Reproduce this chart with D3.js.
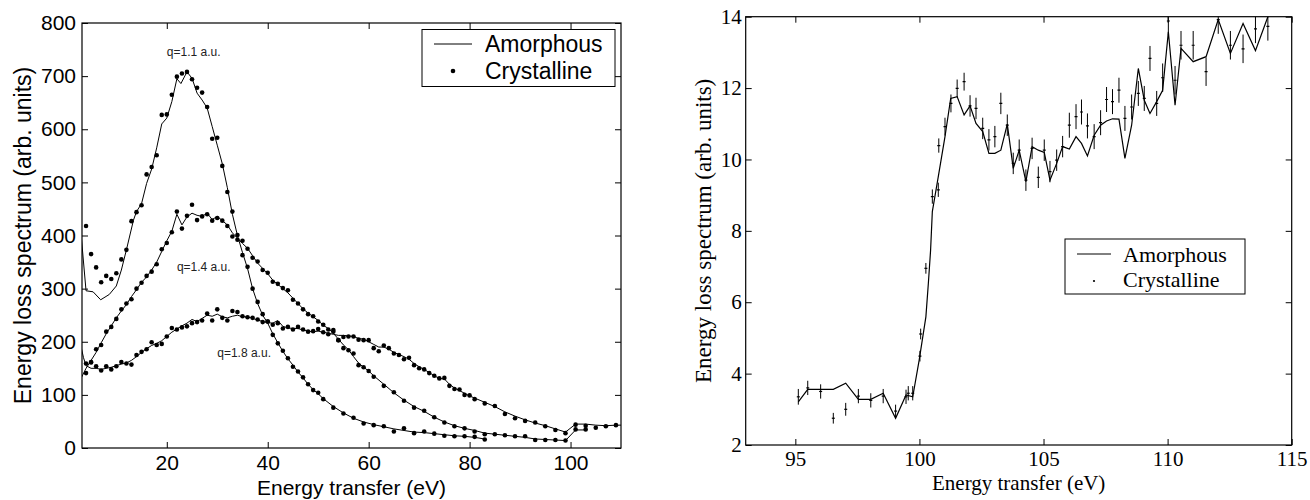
<!DOCTYPE html>
<html>
<head>
<meta charset="utf-8">
<script src="https://cdn.jsdelivr.net/npm/d3@7"></script>
<style>
  body { margin: 0; background: #fff; }
  svg { display: block; }
  .sans text { font-family: "Liberation Sans", Arial, sans-serif; }
  .serif text { font-family: "Liberation Serif", "Times New Roman", serif; }
</style>
</head>
<body>
<svg id="chart" width="1310" height="500"></svg>
<script>
"use strict";

// ---- left panel: energy loss spectra at three momentum transfers ----
// crystalline (dots) [energy, value]
const q11Crystalline = [[4,418],[5,365],[6,340],[7,312],[8,324],[9,318],[10,329],[11,355],[12,373],[13,427],[14,444],[15,457],[16,515],[17,529],[18,551],[19,627],[20,628],[21,665],[22,699],[23,705],[24,708],[25,694],[26,678],[27,669],[28,642],[29,582],[30,584],[31,531],[32,482],[33,445],[34,401],[35,363],[36,341],[37,300],[38,275],[39,252],[40,238],[41,213],[42,197],[43,183],[44,169],[45,153],[46,144],[47,133],[48,120],[49,109],[50,104],[51,92],[53,76],[55,65],[57,57],[59,46],[61,43],[63,41],[65,31],[67,37],[69,28],[71,31],[73,27],[75,23],[77,22],[79,22],[81,21],[83,16]];
const q14Crystalline = [[4,141],[5,162],[6,186],[7,194],[8,219],[9,228],[10,243],[11,261],[12,272],[13,280],[14,300],[15,311],[16,324],[17,332],[18,346],[19,374],[20,386],[21,406],[22,445],[23,413],[24,437],[25,458],[26,429],[27,436],[28,440],[29,428],[30,433],[31,428],[32,418],[33,398],[34,392],[35,390],[36,375],[37,358],[38,351],[39,335],[40,330],[41,313],[42,309],[43,301],[44,297],[45,279],[46,272],[47,261],[48,252],[49,248],[50,238],[51,232],[52,223],[53,219],[54,203],[55,188],[56,184],[57,178],[58,156],[59,152],[60,145],[61,134],[63,117],[65,105],[67,89],[69,76],[71,70],[73,58],[75,48],[77,41],[79,37],[81,31],[83,26],[85,26],[87,24],[89,22],[91,22],[93,15],[95,15],[97,15],[99,14],[101,35],[103,35]];
const q18Crystalline = [[4,159],[5,161],[6,154],[7,146],[8,154],[9,148],[10,154],[11,162],[12,159],[13,157],[14,175],[15,181],[16,186],[17,199],[18,194],[19,196],[20,210],[21,226],[22,223],[23,227],[24,229],[25,235],[26,237],[27,240],[28,253],[29,240],[30,261],[31,245],[32,240],[33,258],[34,256],[35,248],[36,246],[37,245],[38,242],[39,237],[40,238],[41,232],[42,235],[43,225],[44,228],[45,223],[46,228],[47,223],[48,219],[49,220],[50,224],[51,218],[52,214],[53,222],[54,203],[55,209],[56,210],[57,210],[58,204],[59,203],[60,203],[61,188],[62,182],[63,193],[64,188],[65,178],[66,175],[67,167],[68,170],[69,156],[70,150],[71,148],[72,141],[73,136],[74,131],[75,132],[76,117],[77,111],[78,110],[79,100],[80,99],[81,92],[83,84],[85,79],[87,64],[89,56],[91,51],[93,48],[95,41],[97,34],[99,28],[101,44],[103,42],[105,38],[107,41],[109,43]];

// amorphous (lines) [energy, value]
const q11Amorphous = [[3,404],[4,296],[5.4,294],[6.9,279],[8.6,289],[10,305],[11,335],[12,373],[13.4,429],[14,445],[15,460],[16,498],[17,525],[18,565],[19,610],[20,621],[21,652],[22,695],[22.8,686],[24,708],[25,696],[26,668],[27,655],[28,640],[29,605],[30,570],[31,535],[32,490],[33,440],[34,400],[35,368],[36,338],[37,300],[38,272],[39,250],[40,235],[41,215],[42,198],[43,182],[44,168],[45,156],[46,143],[47,132],[48,120],[49,110],[50,102],[51,93],[53,78],[55,66],[57,56],[59,49],[61,44],[63,40],[65,36],[67,33],[69,30],[71,29],[73,27],[75,25],[77,23],[79,22],[81,20],[83,17]];
const q14Amorphous = [[3,131],[4,150],[5,165],[6,180],[7,198],[8,215],[9,230],[10,245],[11,258],[12,270],[13,285],[14,298],[15,312],[16,322],[17,335],[18,350],[19,370],[20,390],[21,408],[22,440],[23,420],[24,435],[25,442],[26,438],[27,436],[28,442],[29,430],[30,436],[31,428],[32,420],[33,405],[34,395],[35,385],[36,376],[37,362],[38,348],[39,338],[40,328],[41,316],[42,308],[43,300],[44,292],[45,282],[46,272],[47,262],[48,254],[49,247],[50,240],[51,231],[52,225],[53,216],[54,205],[55,194],[56,185],[57,172],[58,160],[59,152],[60,145],[61,136],[63,120],[65,104],[67,90],[69,78],[71,69],[73,58],[75,49],[77,42],[79,37],[81,33],[83,28],[85,26],[87,24],[89,22],[91,20],[93,17],[95,16],[97,15],[99,14],[101,34],[103,34]];
const q18Amorphous = [[3,191],[3.5,170],[4,155],[5,150],[6,150],[7,148],[8,150],[9,152],[10,155],[11,158],[12,160],[13,165],[14,172],[15,180],[16,187],[17,193],[18,197],[19,202],[20,210],[21,218],[22,224],[23,230],[24,235],[25,242],[26,238],[27,244],[28,250],[29,248],[30,252],[31,247],[32,245],[33,248],[34,250],[35,247],[36,247],[37,244],[38,241],[39,238],[40,236],[41,235],[42,240],[43,229],[44,226],[45,225],[46,225],[47,222],[48,220],[49,219],[50,220],[51,218],[52,216],[53,214],[54,212],[55,212],[56,211],[57,210],[58,206],[59,205],[60,200],[61,195],[62,190],[63,190],[64,186],[65,180],[66,176],[67,172],[68,167],[69,159],[70,153],[71,148],[72,142],[73,136],[74,131],[75,130],[76,120],[77,113],[78,108],[79,103],[80,98],[81,94],[83,86],[85,78],[87,68],[89,60],[91,53],[93,47],[95,42],[97,36],[99,30],[101,45],[103,45],[105,43],[107,42],[109,43],[110,43]];

const leftXTicks = [20, 40, 60, 80, 100];
const leftYTicks = [0, 100, 200, 300, 400, 500, 600, 700, 800];
const curveLabels = [
  { text: "q=1.1 a.u.", e: 20, v: 738 },
  { text: "q=1.4 a.u.", e: 22, v: 334 },
  { text: "q=1.8 a.u.", e: 30, v: 171 }
];

// ---- right panel: edge region ----
const edgeAmorphous = [[95.12,3.21],[95.5,3.56],[96.02,3.56],[96.53,3.56],[97.03,3.73],[97.54,3.28],[98.04,3.28],[98.54,3.45],[99.04,2.75],[99.46,3.40],[99.73,3.35],[99.99,4.38],[100.26,5.59],[100.36,6.53],[100.45,7.46],[100.52,8.54],[100.76,9.52],[101.03,10.64],[101.26,11.71],[101.52,11.76],[101.8,11.25],[102.04,11.5],[102.28,11.01],[102.55,10.78],[102.8,10.17],[103.04,10.17],[103.28,10.26],[103.54,10.99],[103.78,9.75],[104.02,10.26],[104.29,9.38],[104.54,10.36],[104.79,10.26],[105.03,10.2],[105.26,9.42],[105.53,9.89],[105.77,10.36],[106.04,10.29],[106.31,10.64],[106.53,10.45],[106.77,10.10],[107.04,10.68],[107.3,10.96],[107.54,11.08],[107.78,11.14],[108.04,11.13],[108.28,10.03],[108.55,10.96],[108.82,12.55],[109.06,11.66],[109.29,11.29],[109.56,11.62],[109.8,11.94],[110.03,13.58],[110.3,11.52],[110.54,13.11],[111.03,12.74],[111.55,12.88],[112.04,13.92],[112.53,12.97],[113.04,13.81],[113.54,13.05],[114.04,14.0],[114.3,14.6]];
const edgeEnergy = [95.12,95.5,96.02,96.53,97.03,97.54,98.04,98.54,99.04,99.46,99.55,99.73,100.02,100.05,100.26,100.52,100.76,100.78,101.03,101.27,101.52,101.8,102.04,102.28,102.55,102.8,103.04,103.28,103.54,103.78,104.02,104.29,104.54,104.79,105.03,105.26,105.53,105.77,106.04,106.31,106.53,106.77,107.04,107.3,107.54,107.78,108.04,108.28,108.55,108.82,109.06,109.29,109.56,109.8,110.03,110.3,110.54,111.03,111.55,112.04,112.53,113.04,113.54,114.04];
const edgeCrystalline = [3.35,3.6,3.5,2.75,3.0,3.37,3.25,3.37,2.95,3.35,3.45,3.45,4.49,5.11,6.95,8.96,9.15,10.39,10.92,11.57,11.99,12.18,11.5,11.43,10.87,10.55,10.64,11.57,10.96,9.89,10.26,9.42,10.31,9.5,10.26,9.66,9.98,10.36,10.96,11.2,11.33,10.94,10.64,11.03,11.68,11.62,11.94,11.15,11.47,11.85,11.71,12.83,11.57,12.29,13.88,12.22,13.2,13.2,12.46,13.92,13.2,13.1,13.66,13.73];
const edgeError = [0.22,0.2,0.2,0.15,0.18,0.2,0.2,0.2,0.18,0.2,0.2,0.2,0.15,0.15,0.15,0.2,0.2,0.2,0.25,0.25,0.25,0.25,0.3,0.3,0.3,0.3,0.3,0.3,0.3,0.3,0.3,0.3,0.3,0.3,0.3,0.3,0.3,0.3,0.35,0.35,0.35,0.35,0.35,0.35,0.35,0.35,0.35,0.35,0.35,0.35,0.35,0.35,0.35,0.4,0.4,0.4,0.4,0.4,0.4,0.4,0.4,0.4,0.4,0.4];

const rightXTicks = [95, 100, 105, 110, 115];
const rightYTicks = [2, 4, 6, 8, 10, 12, 14];

const svg = d3.select("#chart");

// axes (ticks inward, full box)
function boxAxes(g, x, y, xt, yt, box, fontSize, xPad, yPad) {
  const tk = 6;
  g.append("g").attr("transform", `translate(0,${box.bottom})`)
    .call(d3.axisBottom(x).tickValues(xt).tickSize(-tk).tickPadding(xPad).tickFormat(d3.format("d")))
    .call(a => a.select(".domain").remove());
  g.append("g").attr("transform", `translate(0,${box.top})`)
    .call(d3.axisTop(x).tickValues(xt).tickSize(-tk).tickFormat(""))
    .call(a => a.select(".domain").remove());
  g.append("g").attr("transform", `translate(${box.left},0)`)
    .call(d3.axisLeft(y).tickValues(yt).tickSize(-tk).tickPadding(yPad).tickFormat(d3.format("d")))
    .call(a => a.select(".domain").remove());
  g.append("g").attr("transform", `translate(${box.right},0)`)
    .call(d3.axisRight(y).tickValues(yt).tickSize(-tk).tickFormat(""))
    .call(a => a.select(".domain").remove());
  g.selectAll(".tick line").attr("stroke", "#000");
  g.selectAll(".tick text").attr("fill", "#000").style("font-size", fontSize + "px");
  g.selectAll("g").attr("font-family", null).attr("font-size", null);
  g.append("rect").attr("x", box.left).attr("y", box.top)
    .attr("width", box.right - box.left).attr("height", box.bottom - box.top)
    .attr("fill", "none").attr("stroke", "#000").attr("stroke-width", 1.2);
}

// ================= left panel =================
const L = { left: 82, right: 621, top: 23, bottom: 448 };
const xL = d3.scaleLinear().domain([3.2, 110]).range([L.left, L.right]);
const yL = d3.scaleLinear().domain([0, 800]).range([L.bottom, L.top]);

const gL = svg.append("g").attr("class", "sans");

svg.append("clipPath").attr("id", "clipL")
  .append("rect").attr("x", L.left).attr("y", L.top)
  .attr("width", L.right - L.left).attr("height", L.bottom - L.top);

const lineL = d3.line().x(d => xL(d[0])).y(d => yL(d[1]));
const plotL = gL.append("g").attr("clip-path", "url(#clipL)");

[q11Amorphous, q14Amorphous, q18Amorphous].forEach(s => {
  plotL.append("path").datum(s)
    .attr("d", lineL)
    .attr("fill", "none").attr("stroke", "#000").attr("stroke-width", 1);
});
[q11Crystalline, q14Crystalline, q18Crystalline].forEach(s => {
  plotL.append("g").selectAll("circle").data(s).join("circle")
    .attr("cx", d => xL(d[0])).attr("cy", d => yL(d[1]))
    .attr("r", 2.3).attr("fill", "#000");
});

boxAxes(gL, xL, yL, leftXTicks, leftYTicks, L, 21, 7, 6);

gL.append("text").attr("x", (L.left + L.right) / 2).attr("y", 495)
  .attr("text-anchor", "middle").style("font-size", "21px").text("Energy transfer (eV)");
gL.append("text").attr("transform", `translate(31,${(L.top + L.bottom) / 2}) rotate(-90)`)
  .attr("text-anchor", "middle").style("font-size", "23px").text("Energy loss spectrum (arb. units)");

gL.selectAll(".qlabel").data(curveLabels).join("text")
  .attr("class", "qlabel")
  .attr("x", d => xL(d.e)).attr("y", d => yL(d.v))
  .style("font-size", "12px").attr("fill", "#222").text(d => d.text);

// legend
const legL = gL.append("g");
legL.append("rect").attr("x", 422).attr("y", 29.5).attr("width", 193).attr("height", 57)
  .attr("fill", "#fff").attr("stroke", "#000").attr("stroke-width", 1);
legL.append("line").attr("x1", 434).attr("x2", 472).attr("y1", 44).attr("y2", 44)
  .attr("stroke", "#000").attr("stroke-width", 1);
legL.append("circle").attr("cx", 453).attr("cy", 71).attr("r", 2.3).attr("fill", "#000");
legL.append("text").attr("x", 485).attr("y", 52).style("font-size", "23px").text("Amorphous");
legL.append("text").attr("x", 485).attr("y", 79).style("font-size", "23px").text("Crystalline");

// ================= right panel =================
const R = { left: 745.7, right: 1291.7, top: 16.7, bottom: 445 };
const xR = d3.scaleLinear().domain([93, 115]).range([R.left, R.right]);
const yR = d3.scaleLinear().domain([2, 14]).range([R.bottom, R.top]);

const gR = svg.append("g").attr("class", "serif");
svg.append("clipPath").attr("id", "clipR")
  .append("rect").attr("x", R.left).attr("y", R.top)
  .attr("width", R.right - R.left).attr("height", R.bottom - R.top);
const plotR = gR.append("g").attr("clip-path", "url(#clipR)");

const lineR = d3.line().x(d => xR(d[0])).y(d => yR(d[1]));
plotR.append("path").datum(edgeAmorphous).attr("d", lineR)
  .attr("fill", "none").attr("stroke", "#000").attr("stroke-width", 1.2);

const pts = edgeEnergy.map((e, i) => ({ e, v: edgeCrystalline[i], err: edgeError[i] }));
const pg = plotR.append("g").selectAll("g").data(pts).join("g");
pg.append("line")
  .attr("x1", d => xR(d.e)).attr("x2", d => xR(d.e))
  .attr("y1", d => yR(d.v - d.err)).attr("y2", d => yR(d.v + d.err))
  .attr("stroke", "#000").attr("stroke-width", 1);
pg.append("line")
  .attr("x1", d => xR(d.e) - 1.5).attr("x2", d => xR(d.e) + 1.5)
  .attr("y1", d => yR(d.v)).attr("y2", d => yR(d.v))
  .attr("stroke", "#000").attr("stroke-width", 1.2);

boxAxes(gR, xR, yR, rightXTicks, rightYTicks, R, 21, 6, 4);

gR.append("text").attr("x", (R.left + R.right) / 2).attr("y", 490)
  .attr("text-anchor", "middle").style("font-size", "21px").text("Energy transfer (eV)");
gR.append("text").attr("transform", `translate(711,${(R.top + R.bottom) / 2}) rotate(-90)`)
  .attr("text-anchor", "middle").style("font-size", "23px").text("Energy loss spectrum (arb. units)");

const legR = gR.append("g");
legR.append("rect").attr("x", 1065).attr("y", 239).attr("width", 180).attr("height", 55)
  .attr("fill", "#fff").attr("stroke", "#000").attr("stroke-width", 1);
legR.append("line").attr("x1", 1077).attr("x2", 1111).attr("y1", 254).attr("y2", 254)
  .attr("stroke", "#000").attr("stroke-width", 1);
legR.append("circle").attr("cx", 1094).attr("cy", 281).attr("r", 1.1).attr("fill", "#000");
legR.append("text").attr("x", 1123).attr("y", 262).style("font-size", "22px").text("Amorphous");
legR.append("text").attr("x", 1123).attr("y", 287).style("font-size", "22px").text("Crystalline");
</script>
</body>
</html>
